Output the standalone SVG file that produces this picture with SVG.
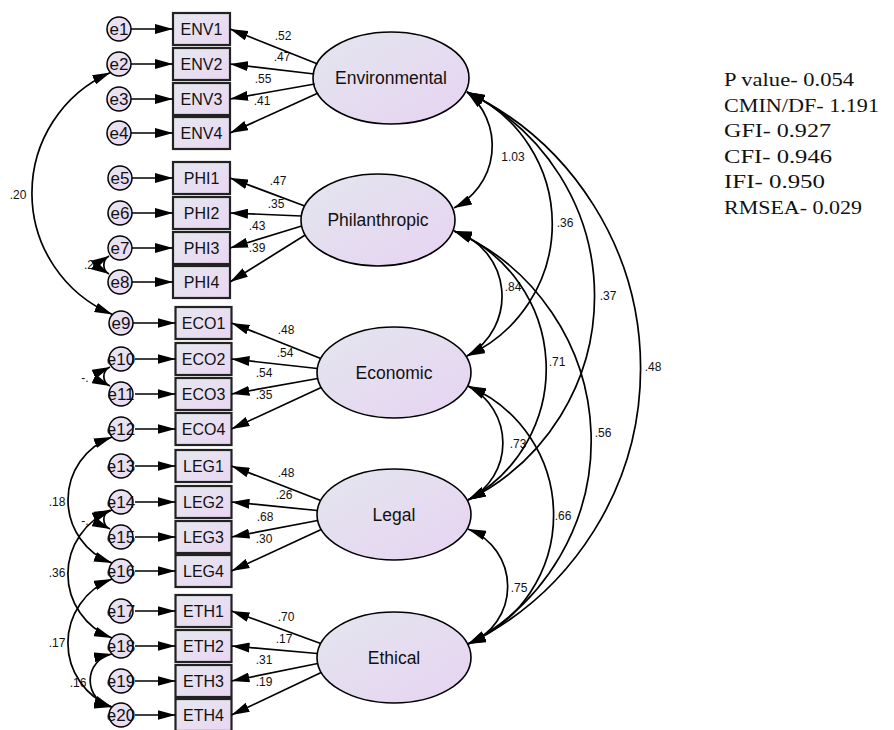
<svg xmlns="http://www.w3.org/2000/svg" width="894" height="730" viewBox="0 0 894 730">
  <defs>
    <linearGradient id="gBox" x1="0" y1="0" x2="1" y2="1">
      <stop offset="0" stop-color="#e6e8ef"/>
      <stop offset="1" stop-color="#e9d6f2"/>
    </linearGradient>
    <linearGradient id="gLat" x1="0" y1="0" x2="1" y2="1">
      <stop offset="0" stop-color="#e3e6ee"/>
      <stop offset="1" stop-color="#e7d3f2"/>
    </linearGradient>
    <linearGradient id="gErr" x1="0" y1="0" x2="1" y2="1">
      <stop offset="0" stop-color="#e8e6f0"/>
      <stop offset="1" stop-color="#ead8f2"/>
    </linearGradient>
    <marker id="ah" viewBox="0 0 18 10" refX="18" refY="5" markerWidth="18" markerHeight="10" markerUnits="userSpaceOnUse" orient="auto-start-reverse">
      <path d="M0,0 L18,5 L0,10 z" fill="#000"/>
    </marker>
  </defs>
  <style>
    .lat { fill: url(#gLat); stroke: #000; stroke-width: 1.6; }
    .box { fill: url(#gBox); stroke: #222; stroke-width: 2.2; }
    .err { fill: url(#gErr); stroke: #000; stroke-width: 1.5; }
    .latT { font-family: "Liberation Sans", Arial, sans-serif; font-size: 17.5px; text-anchor: middle; fill: #111; }
    .boxT { font-family: "Liberation Sans", Arial, sans-serif; font-size: 16px; text-anchor: middle; fill: #111; }
    .errT { font-family: "Liberation Sans", Arial, sans-serif; font-size: 17px; text-anchor: middle; fill: #111; }
    .lbl { font-family: "Liberation Sans", Arial, sans-serif; font-size: 12px; text-anchor: middle; fill: #111; }
    .one { fill: none; stroke: #000; stroke-width: 1.7; marker-end: url(#ah); }
    .two { fill: none; stroke: #000; stroke-width: 1.7; marker-start: url(#ah); marker-end: url(#ah); }
    .fit { font-family: "Liberation Serif", "Times New Roman", serif; font-size: 18.5px; fill: #111; }
  </style>
  <rect width="894" height="730" fill="#fff"/>

  <!-- latent factors -->
  <g id="Environmental"><ellipse class="lat" cx="391" cy="78" rx="78" ry="46"/><text class="latT" x="391" y="84">Environmental</text></g>
  <g id="Philanthropic"><ellipse class="lat" cx="378" cy="220" rx="77" ry="46"/><text class="latT" x="378" y="226">Philanthropic</text></g>
  <g id="Economic"><ellipse class="lat" cx="394" cy="372.5" rx="77" ry="45.5"/><text class="latT" x="394" y="379">Economic</text></g>
  <g id="Legal"><ellipse class="lat" cx="394" cy="514.5" rx="77" ry="45.5"/><text class="latT" x="394" y="521">Legal</text></g>
  <g id="Ethical"><ellipse class="lat" cx="394" cy="657.5" rx="77" ry="45.5"/><text class="latT" x="394" y="664">Ethical</text></g>

  <!-- observed indicators -->
  <g id="ENV1"><rect class="box" x="173" y="13" width="57" height="32"/><text class="boxT" x="201.5" y="34.7">ENV1</text></g>
  <g id="ENV2"><rect class="box" x="173" y="48" width="57" height="32"/><text class="boxT" x="201.5" y="69.7">ENV2</text></g>
  <g id="ENV3"><rect class="box" x="173" y="83" width="57" height="32"/><text class="boxT" x="201.5" y="104.7">ENV3</text></g>
  <g id="ENV4"><rect class="box" x="173" y="117" width="57" height="32"/><text class="boxT" x="201.5" y="138.7">ENV4</text></g>
  <g id="PHI1"><rect class="box" x="173" y="162" width="57" height="32"/><text class="boxT" x="201.5" y="183.7">PHI1</text></g>
  <g id="PHI2"><rect class="box" x="173" y="197" width="57" height="32"/><text class="boxT" x="201.5" y="218.7">PHI2</text></g>
  <g id="PHI3"><rect class="box" x="173" y="232" width="57" height="32"/><text class="boxT" x="201.5" y="253.7">PHI3</text></g>
  <g id="PHI4"><rect class="box" x="173" y="266" width="57" height="32"/><text class="boxT" x="201.5" y="287.7">PHI4</text></g>
  <g id="ECO1"><rect class="box" x="175.5" y="307" width="56" height="32"/><text class="boxT" x="203.5" y="328.7">ECO1</text></g>
  <g id="ECO2"><rect class="box" x="175.5" y="343" width="56" height="32"/><text class="boxT" x="203.5" y="364.7">ECO2</text></g>
  <g id="ECO3"><rect class="box" x="175.5" y="378" width="56" height="32"/><text class="boxT" x="203.5" y="399.7">ECO3</text></g>
  <g id="ECO4"><rect class="box" x="175.5" y="413" width="56" height="32"/><text class="boxT" x="203.5" y="434.7">ECO4</text></g>
  <g id="LEG1"><rect class="box" x="175.5" y="450" width="56" height="32"/><text class="boxT" x="203.5" y="471.7">LEG1</text></g>
  <g id="LEG2"><rect class="box" x="175.5" y="486" width="56" height="32"/><text class="boxT" x="203.5" y="507.7">LEG2</text></g>
  <g id="LEG3"><rect class="box" x="175.5" y="521" width="56" height="32"/><text class="boxT" x="203.5" y="542.7">LEG3</text></g>
  <g id="LEG4"><rect class="box" x="175.5" y="555" width="56" height="32"/><text class="boxT" x="203.5" y="576.7">LEG4</text></g>
  <g id="ETH1"><rect class="box" x="175.5" y="595" width="56" height="32"/><text class="boxT" x="203.5" y="616.7">ETH1</text></g>
  <g id="ETH2"><rect class="box" x="175.5" y="630" width="56" height="32"/><text class="boxT" x="203.5" y="651.7">ETH2</text></g>
  <g id="ETH3"><rect class="box" x="175.5" y="665" width="56" height="32"/><text class="boxT" x="203.5" y="686.7">ETH3</text></g>
  <g id="ETH4"><rect class="box" x="175.5" y="699" width="56" height="32"/><text class="boxT" x="203.5" y="720.7">ETH4</text></g>

  <!-- error terms -->
  <g id="e1"><circle class="err" cx="119" cy="29" r="12"/><text class="errT" x="119" y="35">e1</text></g>
  <g id="e2"><circle class="err" cx="119" cy="64" r="12"/><text class="errT" x="119" y="70">e2</text></g>
  <g id="e3"><circle class="err" cx="119" cy="99" r="12"/><text class="errT" x="119" y="105">e3</text></g>
  <g id="e4"><circle class="err" cx="119" cy="133" r="12"/><text class="errT" x="119" y="139">e4</text></g>
  <g id="e5"><circle class="err" cx="120" cy="178" r="12"/><text class="errT" x="120" y="184">e5</text></g>
  <g id="e6"><circle class="err" cx="120" cy="213" r="12"/><text class="errT" x="120" y="219">e6</text></g>
  <g id="e7"><circle class="err" cx="120" cy="248" r="12"/><text class="errT" x="120" y="254">e7</text></g>
  <g id="e8"><circle class="err" cx="120" cy="282" r="12"/><text class="errT" x="120" y="288">e8</text></g>
  <g id="e9"><circle class="err" cx="121" cy="323" r="12"/><text class="errT" x="121" y="329">e9</text></g>
  <g id="e10"><circle class="err" cx="121" cy="359" r="12"/><text class="errT" x="121" y="365">e10</text></g>
  <g id="e11"><circle class="err" cx="121" cy="394" r="12"/><text class="errT" x="121" y="400">e11</text></g>
  <g id="e12"><circle class="err" cx="121" cy="429" r="12"/><text class="errT" x="121" y="435">e12</text></g>
  <g id="e13"><circle class="err" cx="121" cy="466" r="12"/><text class="errT" x="121" y="472">e13</text></g>
  <g id="e14"><circle class="err" cx="121" cy="502" r="12"/><text class="errT" x="121" y="508">e14</text></g>
  <g id="e15"><circle class="err" cx="121" cy="537" r="12"/><text class="errT" x="121" y="543">e15</text></g>
  <g id="e16"><circle class="err" cx="121" cy="571" r="12"/><text class="errT" x="121" y="577">e16</text></g>
  <g id="e17"><circle class="err" cx="121" cy="611" r="12"/><text class="errT" x="121" y="617">e17</text></g>
  <g id="e18"><circle class="err" cx="121" cy="646" r="12"/><text class="errT" x="121" y="652">e18</text></g>
  <g id="e19"><circle class="err" cx="121" cy="681" r="12"/><text class="errT" x="121" y="687">e19</text></g>
  <g id="e20"><circle class="err" cx="121" cy="715" r="12"/><text class="errT" x="121" y="721">e20</text></g>

  <!-- estimates -->
  <g id="estimates">
    <text class="lbl" x="283" y="40">.52</text>
    <text class="lbl" x="282" y="61">.47</text>
    <text class="lbl" x="263" y="83">.55</text>
    <text class="lbl" x="262" y="105">.41</text>
    <text class="lbl" x="278" y="185">.47</text>
    <text class="lbl" x="276" y="208">.35</text>
    <text class="lbl" x="257" y="230">.43</text>
    <text class="lbl" x="257" y="252">.39</text>
    <text class="lbl" x="286" y="334">.48</text>
    <text class="lbl" x="285" y="357">.54</text>
    <text class="lbl" x="264" y="377">.54</text>
    <text class="lbl" x="264" y="399">.35</text>
    <text class="lbl" x="286" y="477">.48</text>
    <text class="lbl" x="284" y="499">.26</text>
    <text class="lbl" x="265" y="521">.68</text>
    <text class="lbl" x="264" y="543">.30</text>
    <text class="lbl" x="286" y="621">.70</text>
    <text class="lbl" x="284" y="643">.17</text>
    <text class="lbl" x="264" y="664">.31</text>
    <text class="lbl" x="264" y="686">.19</text>
    <text class="lbl" x="513" y="161">1.03</text>
    <text class="lbl" x="565" y="227">.36</text>
    <text class="lbl" x="608" y="300">.37</text>
    <text class="lbl" x="653" y="371">.48</text>
    <text class="lbl" x="513" y="291">.84</text>
    <text class="lbl" x="557" y="366">.71</text>
    <text class="lbl" x="603" y="437">.56</text>
    <text class="lbl" x="518" y="448">.73</text>
    <text class="lbl" x="563" y="520">.66</text>
    <text class="lbl" x="519" y="592">.75</text>
    <text class="lbl" x="18" y="199">.20</text>
    <text class="lbl" x="89" y="269">.2</text>
    <text class="lbl" x="85" y="382">-.</text>
    <text class="lbl" x="85" y="525">-.</text>
    <text class="lbl" x="57" y="506">.18</text>
    <text class="lbl" x="57" y="577">.36</text>
    <text class="lbl" x="57" y="647">.17</text>
    <text class="lbl" x="78" y="687">.16</text>
  </g>

  <g id="connectors">
    <!-- error terms to indicators -->
    <path class="one" d="M131,29 H173"/>
    <path class="one" d="M131,64 H173"/>
    <path class="one" d="M131,99 H173"/>
    <path class="one" d="M131,133 H173"/>
    <path class="one" d="M132,178 H173"/>
    <path class="one" d="M132,213 H173"/>
    <path class="one" d="M132,248 H173"/>
    <path class="one" d="M132,282 H173"/>
    <path class="one" d="M133,323 H175.5"/>
    <path class="one" d="M135,359 H175.5"/>
    <path class="one" d="M135,394 H175.5"/>
    <path class="one" d="M135,429 H175.5"/>
    <path class="one" d="M135,466 H175.5"/>
    <path class="one" d="M135,502 H175.5"/>
    <path class="one" d="M135,537 H175.5"/>
    <path class="one" d="M135,571 H175.5"/>
    <path class="one" d="M135,611 H175.5"/>
    <path class="one" d="M135,646 H175.5"/>
    <path class="one" d="M135,681 H175.5"/>
    <path class="one" d="M135,715 H175.5"/>

    <!-- factor loadings -->
    <path class="one" d="M317.7,64 L230,29"/>
    <path class="one" d="M314.3,74 L230,64"/>
    <path class="one" d="M314.7,84 L230,99"/>
    <path class="one" d="M318.2,93 L230,133"/>
    <path class="one" d="M304.7,206 L230,178"/>
    <path class="one" d="M301.3,216 L230,213"/>
    <path class="one" d="M301.7,226 L230,248"/>
    <path class="one" d="M305.2,235 L230,282"/>
    <path class="one" d="M320.7,358.5 L231.5,323"/>
    <path class="one" d="M317.3,368.5 L231.5,359"/>
    <path class="one" d="M317.7,378.5 L231.5,394"/>
    <path class="one" d="M321.2,387.5 L231.5,429"/>
    <path class="one" d="M320.7,500.5 L231.5,466"/>
    <path class="one" d="M317.3,510.5 L231.5,502"/>
    <path class="one" d="M317.7,520.5 L231.5,537"/>
    <path class="one" d="M321.2,529.5 L231.5,571"/>
    <path class="one" d="M320.7,643.5 L231.5,611"/>
    <path class="one" d="M317.3,653.5 L231.5,646"/>
    <path class="one" d="M317.7,663.5 L231.5,681"/>
    <path class="one" d="M321.2,672.5 L231.5,715"/>

    <!-- factor covariances -->
    <path class="two" d="M467,92 A69.8,69.8 0 0 1 454,208"/>
    <path class="two" d="M467,92 A144.8,144.8 0 0 1 467,356"/>
    <path class="two" d="M467,92 A227.3,227.3 0 0 1 468,500"/>
    <path class="two" d="M467,92 A306.6,306.6 0 0 1 468,644"/>
    <path class="two" d="M454,231 A68.4,68.4 0 0 1 467,356"/>
    <path class="two" d="M454,231 A149.1,149.1 0 0 1 468,500"/>
    <path class="two" d="M454,231 A229.1,229.1 0 0 1 468,644"/>
    <path class="two" d="M468,386 A64,64 0 0 1 468,500"/>
    <path class="two" d="M468,386 A140,140 0 0 1 468,644"/>
    <path class="two" d="M468,529 A61.5,61.5 0 0 1 468,644"/>

    <!-- error covariances -->
    <path class="two" d="M110.5,72.5 A131.8,131.8 0 0 0 112.5,314.5"/>
    <path class="two" d="M109,256 A10.4,10.4 0 0 0 109,274"/>
    <path class="two" d="M110,367 A10.4,10.4 0 0 0 110,386"/>
    <path class="two" d="M110,510 A10.4,10.4 0 0 0 110,529"/>
    <path class="two" d="M112,437 A67.1,67.1 0 0 0 112,563"/>
    <path class="two" d="M112,510 A68.5,68.5 0 0 0 112,638"/>
    <path class="two" d="M112,579 A68.5,68.5 0 0 0 112,707"/>
    <path class="two" d="M112,654 A27,27 0 0 0 112,707"/>
  </g>

  <!-- model fit -->
  <g id="fit">
    <text class="fit" x="724" y="86" textLength="130" lengthAdjust="spacingAndGlyphs">P value- 0.054</text>
    <text class="fit" x="724" y="112" textLength="155" lengthAdjust="spacingAndGlyphs">CMIN/DF- 1.191</text>
    <text class="fit" x="724" y="137" textLength="107" lengthAdjust="spacingAndGlyphs">GFI- 0.927</text>
    <text class="fit" x="724" y="163" textLength="108" lengthAdjust="spacingAndGlyphs">CFI- 0.946</text>
    <text class="fit" x="724" y="188" textLength="101" lengthAdjust="spacingAndGlyphs">IFI- 0.950</text>
    <text class="fit" x="724" y="214" textLength="138" lengthAdjust="spacingAndGlyphs">RMSEA- 0.029</text>
  </g>
</svg>
